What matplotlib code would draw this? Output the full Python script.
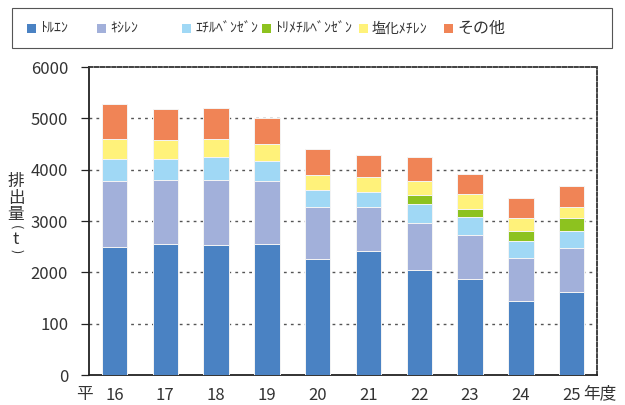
import numpy as np
import matplotlib
matplotlib.use('Agg')
import matplotlib.pyplot as plt
from matplotlib.patches import Rectangle

plt.rcParams['font.family'] = ['Noto Sans CJK JP', 'DejaVu Sans']

# data (t)
years = ['16', '17', '18', '19', '20', '21', '22', '23', '24', '25']
toluene = [2500, 2558, 2526, 2558, 2254, 2422, 2039, 1876, 1447, 1611]
xylene = [1273, 1247, 1279, 1215, 1025, 857, 928, 857, 838, 857]
ethylbenzene = [430, 397, 442, 402, 325, 286, 364, 339, 331, 337]
trimethylbenzene = [0, 0, 0, 0, 0, 0, 182, 162, 189, 253]
dichloromethane = [400, 382, 356, 319, 292, 286, 266, 286, 259, 221]
other = [670, 598, 604, 518, 501, 429, 474, 402, 378, 403]

names = ['ﾄﾙｴﾝ', 'ｷｼﾚﾝ', 'ｴﾁﾙﾍﾞﾝｾﾞﾝ', 'ﾄﾘﾒﾁﾙﾍﾞﾝｾﾞﾝ', '塩化ﾒﾁﾚﾝ', 'その他']
series = [toluene, xylene, ethylbenzene, trimethylbenzene, dichloromethane, other]
colors = ['#4A82C3', '#A2B0DA', '#A0D8F5', '#8DC21F', '#FFF27A', '#F08456']

yticks = [0, 1000, 2000, 3000, 4000, 5000, 6000]
ytick_labels = ['0', '100', '2000', '3000', '4000', '5000', '6000']

fig = plt.figure(figsize=(6.25, 4.05), dpi=100)
ax = fig.add_axes([89/625, 30/405, 508/625, 308/405])

x = np.arange(len(years))
bottom = np.zeros(len(years))
for vals, c in zip(series, colors):
    ax.bar(x, vals, width=0.5, bottom=bottom, color=c, edgecolor='#f4f4f4', linewidth=0.7, zorder=3)
    bottom += np.array(vals)

ax.set_xlim(-0.5, len(years) - 0.5)
ax.set_ylim(0, 6000)
ax.set_yticks(yticks)
ax.set_yticklabels(ytick_labels, fontsize=12, color='#333333')
for yv in yticks[1:-1]:
    ax.axhline(yv, color='#555555', linestyle=(0, (2, 3)), linewidth=1.0, zorder=1)

ax.set_xticks(x)
ax.set_xticklabels(years, fontsize=12, color='#333333')
ax.tick_params(axis='x', length=0, pad=9)
ax.tick_params(axis='y', length=6, width=0.9, color='#222222', pad=9, direction='out')

for s in ['left', 'bottom']:
    ax.spines[s].set_color('#222222')
    ax.spines[s].set_linewidth(1.3)
for s in ['top', 'right']:
    ax.spines[s].set_color('#333333')
    ax.spines[s].set_linewidth(1.3)
    ax.spines[s].set_linestyle((0, (2, 1.2)))

fig.text(84/625, 1 - 394/405, '平', fontsize=12, color='#333333', ha='center', va='center')
fig.text(600/625, 1 - 394/405, '年度', fontsize=12, color='#333333', ha='center', va='center')

# vertical y label: kanji stacked, unit in turned brackets
fig.text(16/625, 1 - 198/405, '排\n出\n量', fontsize=12, color='#333333',
         ha='center', va='center', linespacing=0.95)
fig.text(16/625, 1 - 227/405, '(', fontsize=9, color='#333333', ha='center', va='center', rotation=-90)
fig.text(16/625, 1 - 239/405, 't', fontsize=12, color='#333333', ha='center', va='center')
fig.text(16/625, 1 - 251/405, ')', fontsize=9, color='#333333', ha='center', va='center', rotation=-90)

# legend box
fig.patches.append(Rectangle((12/625, 1 - 48/405), 600/625, 40/405, transform=fig.transFigure,
                             facecolor='white', edgecolor='#555555', linewidth=0.8))
sq_x = [27, 97, 182, 262, 359, 444]
for name, c, sx in zip(names, colors, sq_x):
    fig.patches.append(Rectangle((sx/625, 1 - 33/405), 9/625, 9/405, transform=fig.transFigure,
                                 facecolor=c, edgecolor='none'))
    fs = 11.5 if name == 'その他' else 10
    fig.text((sx + 13)/625, 1 - 28.5/405, name, fontsize=fs, color='#333333', ha='left', va='center')

fig.savefig('out.png', dpi=100)
